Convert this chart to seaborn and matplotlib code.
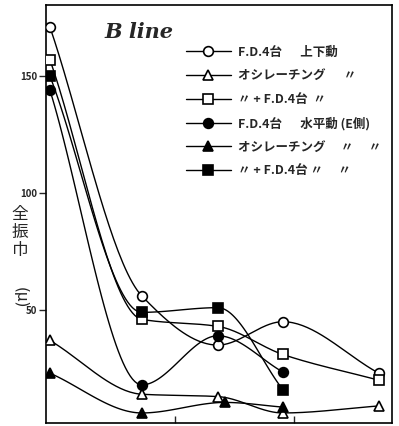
#! /usr/bin/env python3

# imports
import matplotlib
matplotlib.use('Agg')
import matplotlib.pyplot as plt
from matplotlib.lines import Line2D
import seaborn as sns
import numpy as np

# data (x is read in arbitrary units along the axis, y is 全振巾 in μ)
x_pos = [4, 96, 172, 237, 333]
x_pos_shift = [4, 96, 179, 237]    # filled triangle is drawn a bit right of the others

fd_vert = [171, 56, 35, 45, 23]         # F.D.4台 上下動
osc_vert = [37, 14, 13, 6, 9]           # オシレーチング 上下動
osc_fd_vert = [157, 46, 43, 31, 20]     # オシレーチング + F.D.4台 上下動
fd_horiz = [144, 18, 39, 23.5]          # F.D.4台 水平動
osc_horiz = [23, 6, 10.5, 8.5]          # オシレーチング 水平動
osc_fd_horiz = [150, 49, 51, 16]        # オシレーチング + F.D.4台 水平動

labels = ['F.D.4台　  上下動',
          'オシレーチング　  〃',
          '〃 + F.D.4台  〃',
          'F.D.4台　  水平動 (E側)',
          'オシレーチング　 〃　 〃',
          '〃 + F.D.4台 〃　 〃']

y_ticks = [50, 100, 150]
x_ticks = [129, 248]


def smooth(xs, ys, n=40):
    # monotone cubic path through the read points, only for the hand drawn look
    x = np.asarray(xs, float)
    y = np.asarray(ys, float)
    h = np.diff(x)
    d = np.diff(y) / h
    m = np.zeros_like(y)
    m[0], m[-1] = d[0], d[-1]
    for i in range(1, len(y) - 1):
        if d[i - 1] * d[i] > 0:
            w1 = 2 * h[i] + h[i - 1]
            w2 = h[i] + 2 * h[i - 1]
            m[i] = (w1 + w2) / (w1 / d[i - 1] + w2 / d[i])
    sx, sy = [], []
    for i in range(len(x) - 1):
        t = np.linspace(0, 1, n)
        h00 = 2 * t ** 3 - 3 * t ** 2 + 1
        h10 = t ** 3 - 2 * t ** 2 + t
        h01 = -2 * t ** 3 + 3 * t ** 2
        h11 = t ** 3 - t ** 2
        sx.append(x[i] + t * h[i])
        sy.append(h00 * y[i] + h10 * h[i] * m[i] + h01 * y[i + 1] + h11 * h[i] * m[i + 1])
    return np.concatenate(sx), np.concatenate(sy)


def main():
    sns.set_style('white')
    plt.rcParams['font.family'] = ['Noto Sans CJK JP', 'DejaVu Sans']

    fig = plt.figure(figsize=(3.99, 4.26), dpi=100)
    ax = fig.add_axes([0.115, 0.007, 0.867, 0.981])

    series = [
        (x_pos, fd_vert, 'o', 'white'),
        (x_pos, osc_vert, '^', 'white'),
        (x_pos, osc_fd_vert, 's', 'white'),
        (x_pos[:4], fd_horiz, 'o', 'black'),
        (x_pos_shift, osc_horiz, '^', 'black'),
        (x_pos[:4], osc_fd_horiz, 's', 'black'),
    ]

    handles = []
    for xs, ys, mk, fc in series:
        sx, sy = smooth(xs, ys)
        sns.lineplot(x=sx, y=sy, sort=False, estimator=None, color='black',
                     linewidth=1.0, ax=ax)
        ax.plot(xs, ys, linestyle='none', marker=mk, markersize=7,
                markerfacecolor=fc, markeredgecolor='black',
                markeredgewidth=1.2, zorder=5)
        handles.append(Line2D([], [], color='black', lw=1.0, marker=mk,
                              markersize=7, markerfacecolor=fc,
                              markeredgecolor='black', markeredgewidth=1.2))

    ax.set_xlim(0, 346)
    ax.set_ylim(1.7, 180.3)
    ax.set_yticks(y_ticks)
    ax.set_yticklabels([str(v) for v in y_ticks], fontsize=7,
                       fontweight='bold', fontstyle='italic')
    ax.set_xticks(x_ticks)
    ax.set_xticklabels([])
    ax.tick_params(axis='y', direction='out', length=5, width=1, left=True, pad=1)
    ax.tick_params(axis='x', direction='in', length=5, width=1, bottom=True)
    for s in ax.spines.values():
        s.set_color('black')
        s.set_linewidth(1.2)

    # y label written vertically
    ax.text(-0.075, 0.52, '全\n振\n巾', transform=ax.transAxes, fontsize=12,
            ha='center', va='top', linespacing=1.1)
    ax.text(-0.075, 0.325, '(μ)', transform=ax.transAxes, fontsize=11,
            family='DejaVu Sans', ha='center', va='top', rotation=270)

    ax.text(0.17, 0.935, 'B line', transform=ax.transAxes, fontsize=15,
            family='DejaVu Serif', fontstyle='italic', fontweight='bold',
            ha='left', va='center')

    ax.legend(handles, labels, loc='upper left', bbox_to_anchor=(0.39, 0.915),
              frameon=False, prop={'size': 9, 'weight': 'bold'},
              handlelength=3.6, labelspacing=0.85,
              handletextpad=0.6, borderaxespad=0)

    fig.savefig('out.png', dpi=100)


if __name__ == "__main__":
    main()
